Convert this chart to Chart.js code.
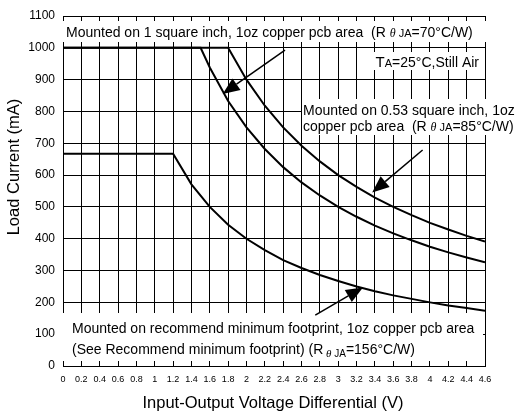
<!DOCTYPE html>
<html>
<head>
<meta charset="utf-8">
<script src="https://cdn.jsdelivr.net/npm/chart.js@4/dist/chart.umd.min.js"></script>
<style>
  body { margin: 0; background: #fff; }
  #wrap { width: 520px; height: 414px; }
</style>
</head>
<body>
<div id="wrap"><canvas id="myChart" width="520" height="414"></canvas></div>
<script>
// Data
const volt70 = [0, 1.8, 2.0, 2.2, 2.4, 2.6, 2.8, 3.0, 3.2, 3.4, 3.6, 3.8, 4.0, 4.2, 4.4, 4.6];
const load70 = [1000, 1000, 900, 818, 750, 692, 643, 600, 563, 529, 500, 474, 450, 429, 409, 391];

const volt85 = [0, 1.5, 1.6, 1.8, 2.0, 2.2, 2.4, 2.6, 2.8, 3.0, 3.2, 3.4, 3.6, 3.8, 4.0, 4.2, 4.4, 4.6];
const load85 = [1000, 1000, 938, 833, 750, 682, 625, 577, 536, 500, 469, 441, 417, 395, 375, 357, 341, 326];

const volt156 = [0, 1.2, 1.4, 1.6, 1.8, 2.0, 2.2, 2.4, 2.6, 2.8, 3.0, 3.2, 3.4, 3.6, 3.8, 4.0, 4.2, 4.4, 4.6];
const load156 = [667, 667, 571, 500, 444, 400, 364, 333, 308, 286, 267, 250, 235, 222, 211, 200, 190, 182, 174];

const xTickLabels = ["0", "0.2", "0.4", "0.6", "0.8", "1", "1.2", "1.4", "1.6", "1.8", "2", "2.2", "2.4",
  "2.6", "2.8", "3", "3.2", "3.4", "3.6", "3.8", "4", "4.2", "4.4", "4.6"];
const yTickLabels = ["0", "100", "200", "300", "400", "500", "600", "700", "800", "900", "1000", "1100"];

// arrows: [tailX, tailY, tipX, tipY] in data units
const arrows = [
  [2.42, 993, 1.74, 855],
  [3.92, 679, 3.37, 545],
  [2.75, 160, 3.27, 247]
];

const FONT = '"Liberation Sans", Arial, sans-serif';
const F14 = '14px ' + FONT;

function toPoints(xs, ys) {
  return xs.map((x, i) => ({ x: x, y: ys[i] }));
}

// draw a line of text made of parts with different fonts
function drawRich(ctx, x, y, parts, align) {
  ctx.textBaseline = 'alphabetic';
  ctx.textAlign = 'left';
  if (align === 'right') {
    let w = 0;
    parts.forEach(p => { ctx.font = p[1]; w += ctx.measureText(p[0]).width; });
    x -= w;
  }
  parts.forEach(p => {
    ctx.font = p[1];
    ctx.fillText(p[0], x, y + (p[2] || 0));
    x += ctx.measureText(p[0]).width;
  });
}

const annotations = {
  id: 'annotations',
  beforeDatasetsDraw(chart) {
    const ctx = chart.ctx;
    ctx.save();
    ctx.fillStyle = '#fff';
    ctx.fillRect(61, 21, 426, 21);    // top label box
    ctx.fillRect(358, 52, 126, 18);   // TA box
    ctx.fillRect(302, 99, 218, 36);   // 0.53 inch box
    ctx.fillRect(61, 313, 422, 48);   // bottom label box

    ctx.fillStyle = '#000';
    drawRich(ctx, 66, 37, [
      ['Mounted on 1 square inch, 1oz copper pcb area  (R ', F14],
      ['\u03b8', 'italic 12px "Liberation Serif", serif'],
      [' JA', '11px ' + FONT],
      ['=70\u00b0C/W)', F14]
    ]);
    drawRich(ctx, 479, 67, [
      ['T', '15px ' + FONT],
      ['A', '11px ' + FONT],
      ['=25\u00b0C,Still Air', F14]
    ], 'right');
    drawRich(ctx, 303, 115, [['Mounted on 0.53 square inch, 1oz', F14]]);
    drawRich(ctx, 303, 131, [
      ['copper pcb area  (R ', F14],
      ['\u03b8', 'italic 12px "Liberation Serif", serif'],
      [' JA', '11px ' + FONT],
      ['=85\u00b0C/W)', F14]
    ]);
    drawRich(ctx, 72, 333, [['Mounted on recommend minimum footprint, 1oz copper pcb area', F14]]);
    drawRich(ctx, 72, 354, [
      ['(See Recommend minimum footprint) (R', F14],
      [' \u03b8', 'italic 11px "Liberation Serif", serif', 3],
      [' JA', '10px ' + FONT, 3],
      ['=156\u00b0C/W)', F14]
    ]);
    ctx.restore();
  },
  afterDatasetsDraw(chart) {
    const ctx = chart.ctx;
    const xs = chart.scales.x, ys = chart.scales.y;
    ctx.save();
    ctx.strokeStyle = '#000';
    ctx.fillStyle = '#000';
    ctx.lineWidth = 1.5;
    arrows.forEach(a => {
      const x0 = xs.getPixelForValue(a[0]), y0 = ys.getPixelForValue(a[1]);
      const x1 = xs.getPixelForValue(a[2]), y1 = ys.getPixelForValue(a[3]);
      const ang = Math.atan2(y1 - y0, x1 - x0);
      const len = 17, half = 7;
      const bx = x1 - len * Math.cos(ang), by = y1 - len * Math.sin(ang);
      ctx.beginPath();
      ctx.moveTo(x0, y0);
      ctx.lineTo(bx, by);
      ctx.stroke();
      ctx.beginPath();
      ctx.moveTo(x1, y1);
      ctx.lineTo(bx + half * Math.sin(ang), by - half * Math.cos(ang));
      ctx.lineTo(bx - half * Math.sin(ang), by + half * Math.cos(ang));
      ctx.closePath();
      ctx.fill();
    });

    // axis titles
    ctx.font = '16.5px ' + FONT;
    ctx.textAlign = 'center';
    ctx.textBaseline = 'middle';
    ctx.fillText('Input-Output Voltage Differential (V)', 273, 403);
    ctx.translate(14, 167);
    ctx.rotate(-Math.PI / 2);
    ctx.fillText('Load Current (mA)', 0, 0);
    ctx.restore();
  }
};

const lineStyle = { borderColor: '#000', borderWidth: 2, pointRadius: 0, tension: 0, fill: false };

new Chart(document.getElementById('myChart'), {
  type: 'line',
  data: {
    datasets: [
      Object.assign({ label: '70', data: toPoints(volt70, load70) }, lineStyle),
      Object.assign({ label: '85', data: toPoints(volt85, load85) }, lineStyle),
      Object.assign({ label: '156', data: toPoints(volt156, load156) }, lineStyle)
    ]
  },
  options: {
    responsive: false,
    animation: false,
    layout: { padding: { top: 16, right: 35, left: 0, bottom: 0 } },
    plugins: { legend: { display: false }, tooltip: { enabled: false } },
    scales: {
      x: {
        type: 'linear', min: 0, max: 4.6,
        afterFit: s => { s.height = 48; },
        ticks: {
          stepSize: 0.2, autoSkip: false, maxRotation: 0, padding: 8, color: '#000',
          font: { size: 9, family: FONT },
          callback: (v, i) => xTickLabels[i]
        },
        grid: { color: '#000', lineWidth: 1, drawTicks: false },
        border: { color: '#000', width: 1 }
      },
      y: {
        min: 0, max: 1100,
        afterFit: s => { s.width = 63; },
        ticks: {
          stepSize: 100, padding: 8, color: '#000',
          font: { size: 12, family: FONT },
          callback: (v, i) => yTickLabels[i]
        },
        grid: { color: '#000', lineWidth: 1, drawTicks: false },
        border: { color: '#000', width: 1 }
      }
    }
  },
  plugins: [annotations]
});
</script>
</body>
</html>
